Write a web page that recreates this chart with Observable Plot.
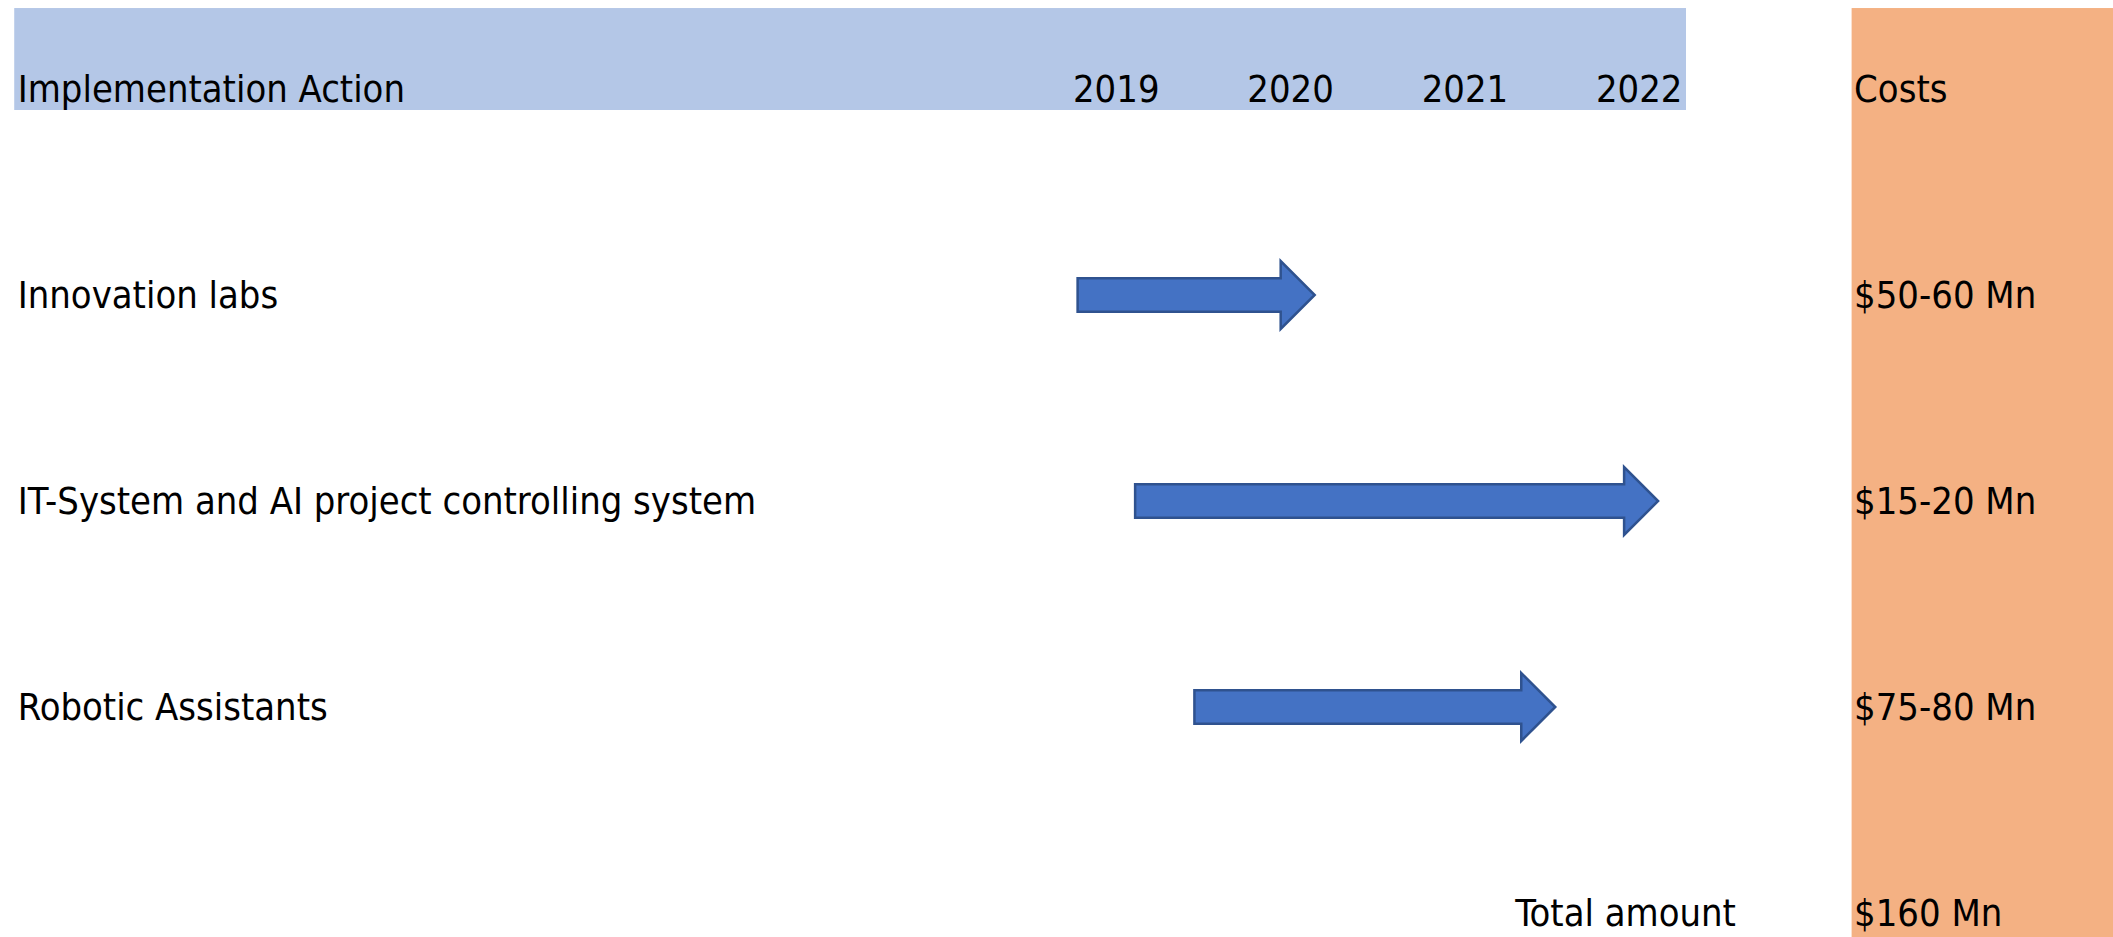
<!DOCTYPE html>
<html>
<head>
<meta charset="utf-8">
<script src="https://cdn.jsdelivr.net/npm/d3@7"></script>
<script src="https://cdn.jsdelivr.net/npm/@observablehq/plot@0.6"></script>
<style>
  html, body { margin: 0; padding: 0; background: #ffffff; }
  #chart svg { display: block; }
</style>
</head>
<body>
<div id="chart"></div>
<script>
// ---- data ----
const headerAction = "Implementation Action";
const headerCosts = "Costs";
const years = [2019, 2020, 2021, 2022];
const actions = ["Innovation labs", "IT-System and AI project controlling system", "Robotic Assistants"];
const startYear = [2019.51, 2019.84, 2020.18];
const endYear = [2020.87, 2022.84, 2022.25];
const costs = ["$50-60 Mn", "$15-20 Mn", "$75-80 Mn"];
const totalLabel = "Total amount";
const totalCost = "$160 Mn";

// ---- layout (year units on x, row units on y) ----
const W = 2113, H = 937;
const tableLeft = 2013.41;   // left edge of the action column
const tableRight = 2023;     // right edge of the 2022 column
const costLeft = 2023.95;    // left edge of the cost column
const headerTop = -0.393, headerBottom = 0.102;
const font = "'DejaVu Sans Condensed', 'DejaVu Sans', sans-serif";
const fs = 37.8;

const rows = actions.map((a, i) => ({action: a, row: i + 1, start: startYear[i], end: endYear[i], cost: costs[i]}));

const blockArrow = (index, scales, values) => {
  const g = d3.create("svg:g");
  const shaft = 16.7, head = 34, headLen = 34;
  for (const i of index) {
    const x1 = values.x1[i], x2 = values.x2[i], y = values.y1[i];
    const xh = x2 - headLen;
    const d = `M${x1},${y - shaft}L${xh},${y - shaft}L${xh},${y - head}L${x2},${y}L${xh},${y + head}L${xh},${y + shaft}L${x1},${y + shaft}Z`;
    g.append("path").attr("d", d).attr("fill", "#4472C4").attr("stroke", "#2F528F").attr("stroke-width", 2.5).attr("stroke-linejoin", "miter");
  }
  return g.node();
};

const textOpts = {fontSize: fs, fontFamily: font, fill: "#000"};

const chart = Plot.plot({
  width: W,
  height: H,
  margin: 0,
  x: {type: "linear", domain: [2019, 2023], range: [988.7, 1686], axis: null},
  y: {type: "linear", domain: [-0.432, 4.1165], range: [0, H], axis: null},
  style: {fontFamily: font, background: "#ffffff"},
  marks: [
    // header band and cost column
    Plot.rect([0], {x1: tableLeft, x2: tableRight, y1: headerTop, y2: headerBottom, fill: "#B4C7E7"}),
    Plot.rect([0], {x1: costLeft, x2: 2026, y1: headerTop, y2: 4.5, fill: "#F4B183"}),
    // header texts
    Plot.text([headerAction], {text: d => d, x: tableLeft, y: 0, textAnchor: "start", dx: 3, ...textOpts}),
    Plot.text(years, {text: d => String(d), x: d => d + 1, y: 0, textAnchor: "end", dx: -4, ...textOpts}),
    Plot.text([headerCosts], {text: d => d, x: costLeft, y: 0, textAnchor: "start", dx: 2, ...textOpts}),
    // rows
    Plot.text(rows, {text: "action", x: tableLeft, y: "row", textAnchor: "start", dx: 3, ...textOpts}),
    Plot.link(rows, {x1: "start", x2: "end", y1: "row", y2: "row", render: blockArrow}),
    Plot.text(rows, {text: "cost", x: costLeft, y: "row", textAnchor: "start", dx: 2, ...textOpts}),
    // total
    Plot.text([totalLabel], {text: d => d, x: 2022, y: 4, textAnchor: "start", dx: 3, ...textOpts}),
    Plot.text([totalCost], {text: d => d, x: costLeft, y: 4, textAnchor: "start", dx: 2, ...textOpts})
  ]
});

document.getElementById("chart").append(chart);
</script>
</body>
</html>
